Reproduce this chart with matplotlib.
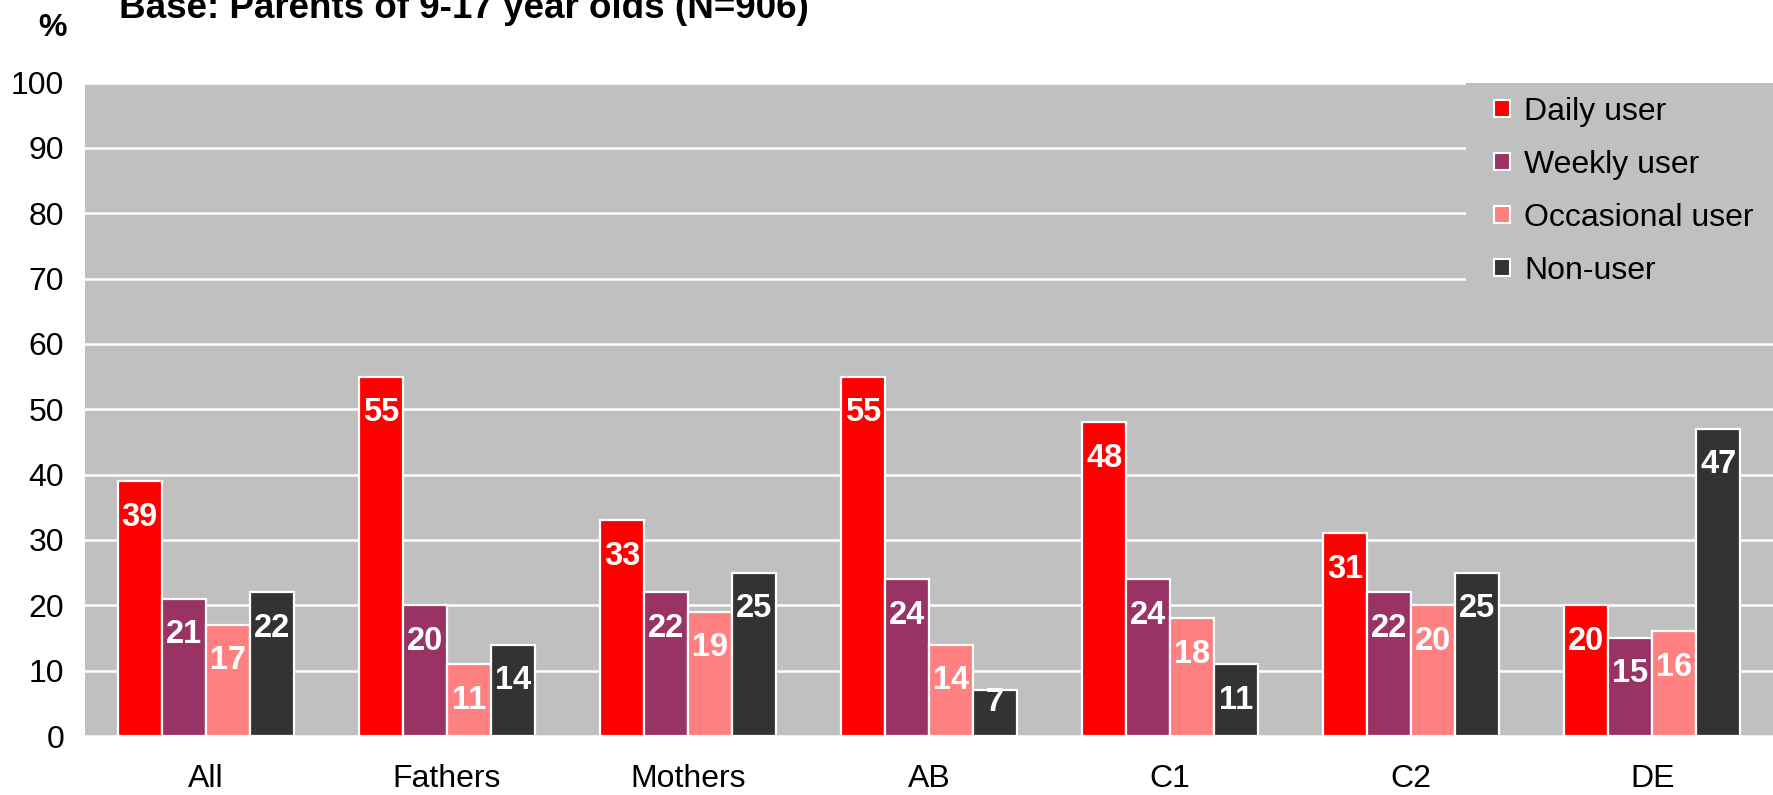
import matplotlib.pyplot as plt
import numpy as np
from matplotlib.patches import Patch, Rectangle

plt.rcParams['font.family'] = ['Liberation Sans', 'DejaVu Sans']

groups = ['All', 'Fathers', 'Mothers', 'AB', 'C1', 'C2', 'DE']
series = ['Daily user', 'Weekly user', 'Occasional user', 'Non-user']
daily = [39, 55, 33, 55, 48, 31, 20]
weekly = [21, 20, 22, 24, 24, 22, 15]
occasional = [17, 11, 19, 14, 18, 20, 16]
non_user = [22, 14, 25, 7, 11, 25, 47]
colors = ['#FF0000', '#993366', '#FF8080', '#333333']
yticks = list(range(0, 101, 10))

title = 'Base: Parents of 9-17 year olds (N=906)'
FS = 23


def main():
    fig = plt.figure(figsize=(17.73, 7.95), dpi=100)
    ax = fig.add_axes([0.048, 0.0742, 0.952, 0.822])
    ax.set_facecolor('#C0C0C0')

    x = np.arange(len(groups))
    w = 0.1825
    px_per_unit = 0.822 * 795 / 100  # pixels per percentage point

    for i, (vals, col) in enumerate(zip([daily, weekly, occasional, non_user], colors)):
        xs = x + (i - 1.5) * w
        ax.bar(xs, vals, width=w, color=col, edgecolor='white', linewidth=1.6, zorder=3)
        for xi, v in zip(xs, vals):
            # label sits just inside the bar top; short bars get a smaller offset
            off_px = min(36, v * px_per_unit - 34)
            ax.annotate(str(v), (xi, v), xytext=(0, -off_px * 0.72), textcoords='offset points',
                        ha='center', va='center', color='white', fontsize=FS + 0.5,
                        fontweight='bold', zorder=4)

    ax.set_xlim(-0.5, len(groups) - 0.5)
    ax.set_ylim(0, 100)
    ax.set_yticks(yticks)
    ax.set_xticks(x)
    ax.set_xticklabels(groups)
    ax.tick_params(axis='x', length=0, pad=20, labelsize=FS)
    ax.tick_params(axis='y', length=0, pad=15, labelsize=FS)
    ax.yaxis.grid(True, color='white', linewidth=1.8)
    ax.set_axisbelow(True)
    for s in ax.spines.values():
        s.set_visible(False)

    handles = [Patch(facecolor=c, edgecolor='white', linewidth=1.5) for c in colors]
    leg = ax.legend(handles, series, loc='upper right', bbox_to_anchor=(0.997, 1.0),
                    fontsize=FS, frameon=False, borderaxespad=0, borderpad=0.45,
                    handlelength=0.48, handleheight=0.48, handletextpad=0.45,
                    labelspacing=0.72)
    leg.set_zorder(5)

    # grey block behind the legend hides the gridlines there
    fig.canvas.draw()
    bb = leg.get_window_extent().transformed(ax.transAxes.inverted())
    ax.add_patch(Rectangle((bb.x0 - 0.008, bb.y0), 1.0 - bb.x0 + 0.008, 1.0 - bb.y0,
                           transform=ax.transAxes, facecolor='#C0C0C0', edgecolor='none',
                           zorder=1))

    fig.text(0.067, 0.977, title, fontsize=26.5, fontweight='bold', va='baseline', ha='left')
    fig.text(0.0215, 0.955, '%', fontsize=23, fontweight='bold', va='baseline', ha='left')

    fig.savefig('out.png', dpi=100)


if __name__ == '__main__':
    main()
